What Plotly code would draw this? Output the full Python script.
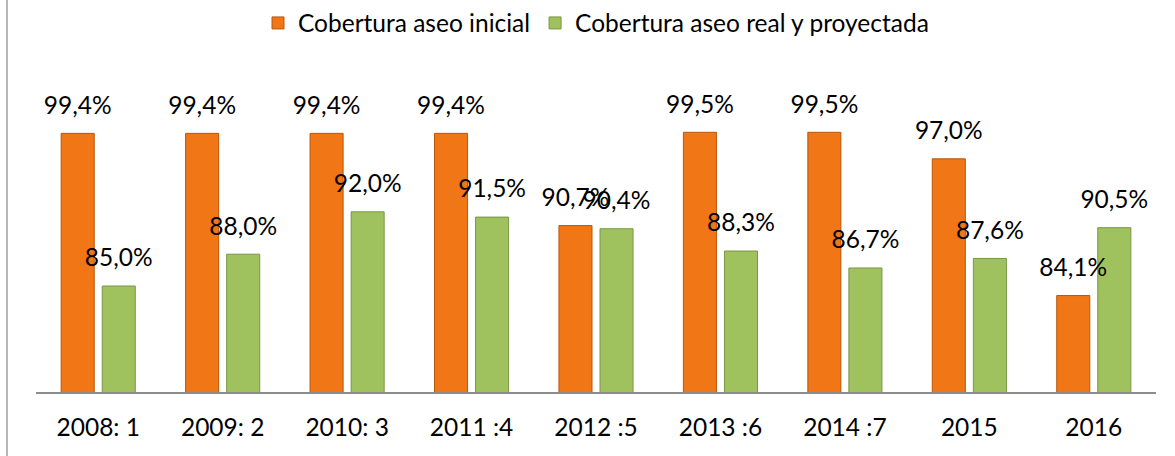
import plotly.graph_objects as go

categories = ["2008: 1", "2009: 2", "2010: 3", "2011 :4", "2012 :5",
              "2013 :6", "2014 :7", "2015", "2016"]
inicial = [99.4, 99.4, 99.4, 99.4, 90.7, 99.5, 99.5, 97.0, 84.1]
real_proy = [85.0, 88.0, 92.0, 91.5, 90.4, 88.3, 86.7, 87.6, 90.5]

name_ini = "Cobertura aseo inicial"
name_real = "Cobertura aseo real y proyectada"

FONT = "Lato"
FS = 24.5

fig = go.Figure()
fig.add_trace(go.Bar(
    x=categories, y=inicial, name=name_ini, offsetgroup="a",
    marker=dict(color="#F07616", line=dict(color="#B9570C", width=1)),
    hoverinfo="skip",
))
fig.add_trace(go.Bar(
    x=categories, y=real_proy, name=name_real, offsetgroup="b",
    marker=dict(color="#A0C25E", line=dict(color="#7A9644", width=1)),
    hoverinfo="skip",
))
for vals, grp in ((inicial, "a"), (real_proy, "b")):
    fig.add_trace(go.Scatter(
        x=categories, y=vals, offsetgroup=grp, mode="markers+text",
        text=[f"{v:.1f}%".replace(".", ",") for v in vals],
        textposition="top center",
        textfont=dict(family=FONT, size=FS, color="#000000"),
        marker=dict(size=20, opacity=0),
        showlegend=False, hoverinfo="skip", cliponaxis=False,
    ))

fig.update_layout(
    width=1175, height=456,
    margin=dict(l=36, r=19, t=127, b=64),
    paper_bgcolor="white", plot_bgcolor="white",
    barmode="group", scattermode="group",
    bargap=0.34, bargroupgap=0.195, scattergap=0.34,
    separators=",.",
    font=dict(family=FONT, size=FS, color="#000000"),
    legend=dict(orientation="h", x=0.5, xanchor="center", xref="paper",
                y=1 - 23 / 456, yanchor="middle", yref="container",
                font=dict(family=FONT, size=FS), itemwidth=30,
                traceorder="normal"),
    showlegend=True,
)
fig.update_xaxes(showline=True, linecolor="#8C8C8C", linewidth=1.5,
                 ticks="", showgrid=False, tickfont=dict(family=FONT, size=FS),
                 ticklabelstandoff=13)
fig.update_yaxes(range=[75, 100], visible=False, showgrid=False)

fig.add_shape(type="line", xref="paper", yref="paper",
              x0=-29 / 1120, x1=-29 / 1120, y0=-64 / 265, y1=1 + 127 / 265,
              line=dict(color="#A0A0A0", width=1.5))

fig.write_html("out.html")
